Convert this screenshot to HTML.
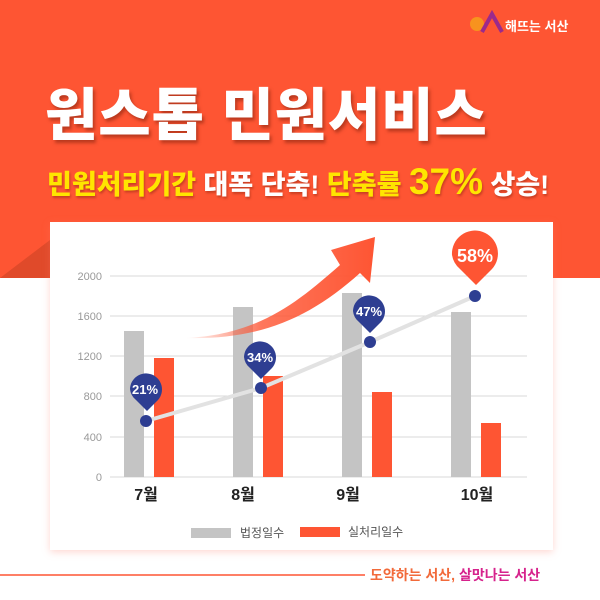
<!DOCTYPE html>
<html><head><meta charset="utf-8"><style>
body{margin:0;width:600px;height:600px;overflow:hidden;background:#fff;font-family:"Liberation Sans","Noto Sans CJK KR",sans-serif;position:relative}
.top{position:absolute;left:0;top:0;width:600px;height:278px;background:#fe5533}
.t{position:absolute;white-space:nowrap;font-weight:900}
</style></head><body>
<div class="top"></div>
<svg width="600" height="600" style="position:absolute;left:0;top:0">
<polygon points="0,278 50,240 50,278" fill="#e04a2a"/>
<rect x="50" y="222" width="503" height="328" fill="#fff" style="filter:drop-shadow(0 2px 4px rgba(255,120,100,.3))"/>
<g stroke="#d8d8d8" stroke-width="1">
<line x1="110" y1="276" x2="527" y2="276"/><line x1="110" y1="316" x2="527" y2="316"/>
<line x1="110" y1="356" x2="527" y2="356"/><line x1="110" y1="396" x2="527" y2="396"/>
<line x1="110" y1="437" x2="527" y2="437"/><line x1="110" y1="477" x2="527" y2="477"/>
</g>
<g font-size="11" fill="#999" text-anchor="end" font-family="Liberation Sans,sans-serif">
<text x="102" y="280">2000</text><text x="102" y="320">1600</text><text x="102" y="360">1200</text>
<text x="102" y="400">800</text><text x="102" y="441">400</text><text x="102" y="481">0</text></g>
<g fill="#c4c4c4"><rect x="124" y="331" width="20" height="146"/><rect x="233" y="307" width="20" height="170"/><rect x="342" y="293" width="20" height="184"/><rect x="451" y="312" width="20" height="165"/></g>
<g fill="#fe5533"><rect x="154" y="358" width="20" height="119"/><rect x="263" y="376" width="20" height="101"/><rect x="372" y="392" width="20" height="85"/><rect x="481" y="423" width="20" height="54"/></g>
<defs><linearGradient id="g" x1="0" x2="1"><stop offset="0" stop-color="#fe5533" stop-opacity="0"/><stop offset=".4" stop-color="#fe5533" stop-opacity=".8"/><stop offset="1" stop-color="#fe5533"/></linearGradient></defs>
<path d="M185,338 C260,335 300,300 340,265 L331,250 L375,237 L370,283 L360,273 C310,318 260,340 185,338Z" fill="url(#g)"/>
<polyline points="146,421 261,388 370,342 475,296" fill="none" stroke="#e2e2e2" stroke-width="4"/>
<g fill="#2e3e92"><circle cx="146" cy="421" r="6"/><circle cx="261" cy="388" r="6"/><circle cx="370" cy="342" r="6"/><circle cx="475" cy="296" r="6"/>
<path d="M129,389 a16,16 0 1 1 28,11 l-11,11 l-11,-11 a16,16 0 0 1 -6,-11z" transform="translate(1,0)"/>
<path d="M245,358 a16,16 0 1 1 28,11 l-11,11 l-11,-11 a16,16 0 0 1 -6,-11z" transform="translate(-1,-1)"/>
<path d="M354,312 a16,16 0 1 1 28,11 l-11,11 l-11,-11 a16,16 0 0 1 -6,-11z" transform="translate(-1,-1)"/></g>
<path d="M452,255 a23,23 0 1 1 40,14 l-16,16 l-16,-16 a23,23 0 0 1 -8,-14z" fill="#fe5533"/>
<g fill="#fff" font-weight="bold" text-anchor="middle" font-family="Liberation Sans,sans-serif">
<text x="145" y="394" font-size="13">21%</text><text x="260" y="362" font-size="13">34%</text><text x="369" y="316" font-size="13">47%</text><text x="475" y="262" font-size="18">58%</text></g>
<g font-weight="bold" font-size="16" fill="#222" text-anchor="middle"><text x="146" y="500">7월</text><text x="243" y="500">8월</text><text x="348" y="500">9월</text><text x="477" y="500">10월</text></g>
<rect x="191" y="528" width="40" height="10" fill="#c4c4c4"/><text x="240" y="537" font-size="12" fill="#555">법정일수</text>
<rect x="300" y="527" width="40" height="10" fill="#fe5533"/><text x="348" y="536" font-size="12" fill="#555">실처리일수</text>
<line x1="0" y1="575" x2="365" y2="575" stroke="#fe5533" stroke-width="1.5"/>
<text x="370" y="580" font-size="14" font-weight="bold" fill="#f26a3a">도약하는 서산, <tspan fill="#d6228c">살맛나는 서산</tspan></text>
<circle cx="477" cy="24" r="7" fill="#f7931e"/><path d="M482,32 L492,14 L502,32" fill="none" stroke="#9b2a8c" stroke-width="4"/>
</svg>
<div class="t" style="left:45px;top:16px;left:505px;font-size:13px;color:#fff;font-weight:bold">해뜨는 서산</div>
<div class="t" style="left:45px;top:70px;font-size:57px;color:#fff;text-shadow:2px 3px 3px rgba(120,30,10,.5);letter-spacing:0.8px">원스톱 민원서비스</div>
<div class="t" style="left:47px;top:161px;font-size:27px;color:#fff;text-shadow:1px 2px 2px rgba(120,30,10,.4);letter-spacing:0"><span style="color:#ffe500">민원처리기간</span> 대폭 단축! <span style="color:#ffe500">단축률 <span style="font-size:37px;font-family:'Liberation Sans',sans-serif">37%</span></span> 상승!</div>
</body></html>
